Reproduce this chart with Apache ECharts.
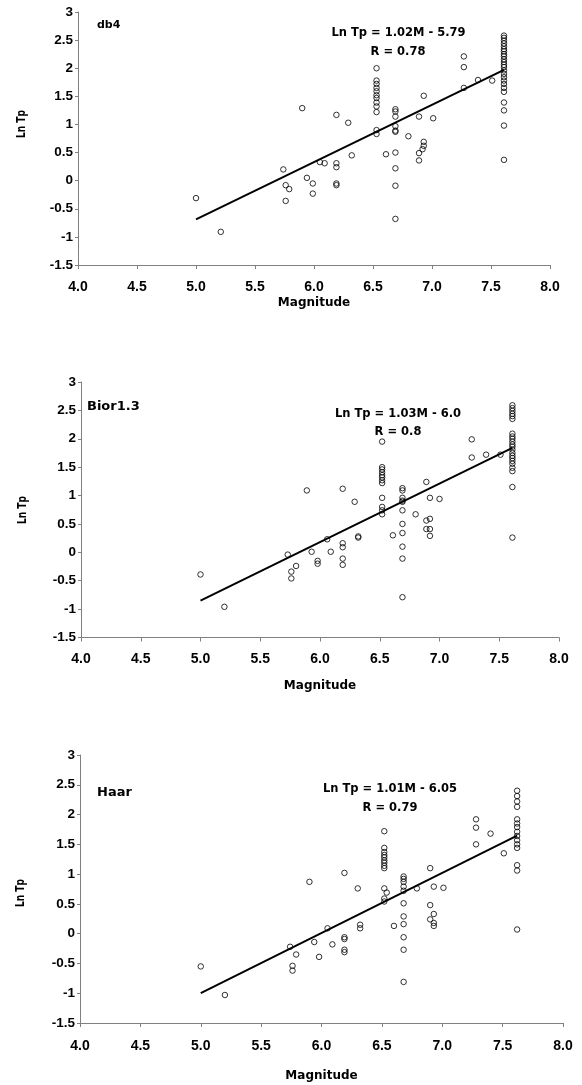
<!DOCTYPE html>
<html>
<head>
<meta charset="utf-8">
<script src="https://cdn.jsdelivr.net/npm/echarts@6/dist/echarts.min.js"></script>
<style>html,body{margin:0;padding:0;background:#fff}#c{width:582px;height:1085px}</style>
</head>
<body>
<div id="c"></div>
<script>
// ---- data ----
const xTicks = [4.0, 4.5, 5.0, 5.5, 6.0, 6.5, 7.0, 7.5, 8.0];
const yTicks = [-1.5, -1, -0.5, 0, 0.5, 1, 1.5, 2, 2.5, 3];
const panelNames = ['db4', 'Bior1.3', 'Haar'];
const slopes = [1.02, 1.03, 1.01];
const intercepts = [-5.79, -6.0, -6.05];
const eqTexts = ['Ln Tp = 1.02M - 5.79', 'Ln Tp = 1.03M - 6.0', 'Ln Tp = 1.01M - 6.05'];
const rTexts = ['R = 0.78', 'R = 0.8', 'R = 0.79'];

const db4Points = [
  [5.00,-0.31],[5.21,-0.91],[5.90,1.29],[5.74,0.20],[5.76,-0.08],[5.79,-0.15],[5.76,-0.36],
  [5.94,0.05],[5.99,-0.05],[5.99,-0.23],[6.05,0.33],[6.09,0.31],[6.19,1.17],[6.19,0.31],
  [6.19,0.24],[6.19,-0.05],[6.19,-0.08],[6.29,1.03],[6.32,0.45],
  [6.53,2.00],[6.53,1.78],[6.53,1.72],[6.53,1.65],[6.53,1.59],[6.53,1.52],[6.53,1.47],
  [6.53,1.39],[6.53,1.32],[6.53,1.22],[6.53,0.90],[6.53,0.83],
  [6.69,1.27],[6.69,1.23],[6.69,1.14],[6.69,0.97],[6.69,0.89],[6.69,0.87],[6.69,0.50],
  [6.69,0.22],[6.69,-0.09],[6.69,-0.68],
  [6.61,0.47],[6.80,0.79],[6.89,1.14],[6.93,1.51],[7.01,1.11],[6.93,0.69],[6.93,0.62],
  [6.92,0.56],[6.89,0.49],[6.89,0.36],[7.27,2.21],[7.27,2.02],[7.27,1.65],[7.39,1.79],[7.51,1.78],
  [7.61,2.58],[7.61,2.54],[7.61,2.49],[7.61,2.44],[7.61,2.39],[7.61,2.34],[7.61,2.30],[7.61,2.25],
  [7.61,2.21],[7.61,2.16],[7.61,2.11],[7.61,2.06],[7.61,2.02],[7.61,1.96],[7.61,1.90],[7.61,1.84],
  [7.61,1.78],[7.61,1.72],[7.61,1.65],[7.61,1.58],[7.61,1.39],[7.61,1.25],[7.61,0.98],[7.61,0.37]
];
const biorPoints = [
  [5.00,-0.39],[5.20,-0.96],[5.89,1.09],[5.73,-0.04],[5.80,-0.24],[5.76,-0.34],[5.76,-0.46],
  [5.93,0.01],[5.98,-0.15],[5.98,-0.20],[6.06,0.23],[6.09,0.01],[6.19,1.12],[6.19,0.16],
  [6.19,0.09],[6.19,-0.11],[6.19,-0.22],[6.29,0.89],[6.32,0.28],[6.32,0.26],
  [6.52,1.95],[6.52,1.50],[6.52,1.46],[6.52,1.41],[6.52,1.36],[6.52,1.32],[6.52,1.27],
  [6.52,1.22],[6.52,0.96],[6.52,0.80],[6.52,0.74],[6.52,0.67],
  [6.61,0.30],
  [6.69,1.13],[6.69,1.09],[6.69,0.96],[6.69,0.91],[6.69,0.89],[6.69,0.74],[6.69,0.50],
  [6.69,0.34],[6.69,0.10],[6.69,-0.11],[6.69,-0.79],
  [6.80,0.67],[6.89,1.24],[6.92,0.96],[7.00,0.94],[6.89,0.56],[6.89,0.41],[6.92,0.59],
  [6.92,0.41],[6.92,0.29],[7.27,1.99],[7.27,1.67],[7.39,1.72],[7.51,1.72],
  [7.61,2.59],[7.61,2.54],[7.61,2.49],[7.61,2.44],[7.61,2.40],[7.61,2.35],
  [7.61,2.09],[7.61,2.04],[7.61,2.00],[7.61,1.95],[7.61,1.90],[7.61,1.86],[7.61,1.81],
  [7.61,1.75],[7.61,1.70],[7.61,1.66],[7.61,1.61],[7.61,1.56],[7.61,1.49],[7.61,1.43],
  [7.61,1.15],[7.61,0.26]
];
const haarPoints = [
  [5.00,-0.55],[5.20,-1.03],[5.90,0.87],[5.74,-0.22],[5.79,-0.35],[5.76,-0.54],[5.76,-0.62],
  [5.94,-0.14],[5.98,-0.39],[6.05,0.09],[6.09,-0.18],[6.19,1.02],[6.19,-0.06],[6.19,-0.09],
  [6.19,-0.27],[6.19,-0.31],[6.30,0.76],[6.32,0.15],[6.32,0.09],
  [6.52,1.72],[6.52,1.44],[6.52,1.37],[6.52,1.32],[6.52,1.28],[6.52,1.23],[6.52,1.19],
  [6.52,1.14],[6.52,1.10],[6.52,0.76],[6.52,0.59],[6.52,0.54],
  [6.54,0.69],[6.60,0.13],
  [6.68,0.96],[6.68,0.92],[6.68,0.87],[6.68,0.79],[6.68,0.72],[6.68,0.51],[6.68,0.29],
  [6.68,0.16],[6.68,-0.06],[6.68,-0.27],[6.68,-0.81],
  [6.79,0.76],[6.90,1.10],[6.93,0.79],[7.01,0.77],[6.90,0.48],[6.93,0.33],[6.90,0.24],
  [6.93,0.18],[6.93,0.13],[7.28,1.92],[7.28,1.78],[7.28,1.50],[7.40,1.68],[7.51,1.35],
  [7.62,2.40],[7.62,2.31],[7.62,2.22],[7.62,2.13],[7.62,1.92],[7.62,1.85],[7.62,1.79],
  [7.62,1.71],[7.62,1.64],[7.62,1.57],[7.62,1.50],[7.62,1.44],[7.62,1.15],[7.62,1.06],[7.62,0.07]
];
const allPoints = [db4Points, biorPoints, haarPoints];

// ---- layout ----
const FONT = 'DejaVu Sans';
const TICKFONT = 'Liberation Sans, Arial, sans-serif';
const grids = [
  {left: 78, top: 12, width: 472, height: 253},
  {left: 81, top: 382, width: 478, height: 255.5},
  {left: 80, top: 755, width: 483, height: 268}
];
const nameGaps = [32, 42, 47];
const labelMargins = [15, 15, 16];
const axisGray = '#808080';

const chart = echarts.init(document.getElementById('c'), null, {renderer: 'canvas', width: 582, height: 1085});

const xAxes = [], yAxes = [], series = [];
grids.forEach((g, i) => {
  xAxes.push({
    gridIndex: i, type: 'value', min: xTicks[0], max: xTicks[xTicks.length - 1], interval: 0.5,
    name: 'Magnitude', nameLocation: 'middle', nameGap: nameGaps[i],
    nameTextStyle: {fontFamily: FONT, fontWeight: 'bold', fontSize: 12, color: '#000'},
    axisLine: {onZero: false, lineStyle: {color: axisGray, width: 1}},
    axisTick: {show: true, inside: false, length: 4, lineStyle: {color: axisGray}},
    axisLabel: {margin: labelMargins[i], fontFamily: TICKFONT, fontWeight: 'bold', fontSize: 14, color: '#000',
      formatter: v => v.toFixed(1)},
    splitLine: {show: false}
  });
  yAxes.push({
    gridIndex: i, type: 'value', min: yTicks[0], max: yTicks[yTicks.length - 1], interval: 0.5,
    axisLine: {onZero: false, lineStyle: {color: axisGray, width: 1}},
    axisTick: {show: true, inside: false, length: 3, lineStyle: {color: axisGray}},
    axisLabel: {margin: 5, fontFamily: TICKFONT, fontWeight: 'bold', fontSize: 13.5, color: '#000'},
    splitLine: {show: false}
  });
  const pts = allPoints[i];
  const xs = pts.map(p => p[0]);
  const x0 = Math.min(...xs), x1 = Math.max(...xs);
  series.push({
    type: 'scatter', xAxisIndex: i, yAxisIndex: i, data: pts, symbol: 'circle', symbolSize: 5.5,
    itemStyle: {color: 'rgba(255,255,255,0)', borderColor: '#000', borderWidth: 1},
    silent: true
  });
  series.push({
    type: 'line', xAxisIndex: i, yAxisIndex: i, showSymbol: false, symbol: 'none',
    data: [[x0, slopes[i] * x0 + intercepts[i]], [x1, slopes[i] * x1 + intercepts[i]]],
    lineStyle: {color: '#000', width: 2}, silent: true
  });
});

const labelPos = [
  {name: [97, 25, 11], eq: [398.5, 33], r: [398, 52], yname: [22, 124]},
  {name: [87, 407, 13], eq: [398, 414], r: [398, 432], yname: [23, 510]},
  {name: [97, 793, 13], eq: [390, 789], r: [390, 808], yname: [21, 893]}
];
const graphics = [];
labelPos.forEach((p, i) => {
  graphics.push({type: 'text', x: p.name[0], y: p.name[1], silent: true,
    style: {text: panelNames[i], fill: '#000', font: 'bold ' + p.name[2] + 'px ' + FONT, textAlign: 'left', textVerticalAlign: 'middle'}});
  graphics.push({type: 'text', x: p.eq[0], y: p.eq[1], silent: true,
    style: {text: eqTexts[i], fill: '#000', font: 'bold 11.5px ' + FONT, textAlign: 'center', textVerticalAlign: 'middle'}});
  graphics.push({type: 'text', x: p.r[0], y: p.r[1], silent: true,
    style: {text: rTexts[i], fill: '#000', font: 'bold 11.5px ' + FONT, textAlign: 'center', textVerticalAlign: 'middle'}});
  graphics.push({type: 'text', x: p.yname[0], y: p.yname[1], rotation: Math.PI / 2, scaleX: 0.7, silent: true,
    style: {text: 'Ln Tp', fill: '#000', font: 'bold 13px ' + FONT, textAlign: 'center', textVerticalAlign: 'middle'}});
});

chart.setOption({
  animation: false,
  backgroundColor: '#fff',
  grid: grids.map(g => Object.assign({containLabel: false}, g)),
  xAxis: xAxes,
  yAxis: yAxes,
  series: series,
  graphic: graphics
});
</script>
</body>
</html>
